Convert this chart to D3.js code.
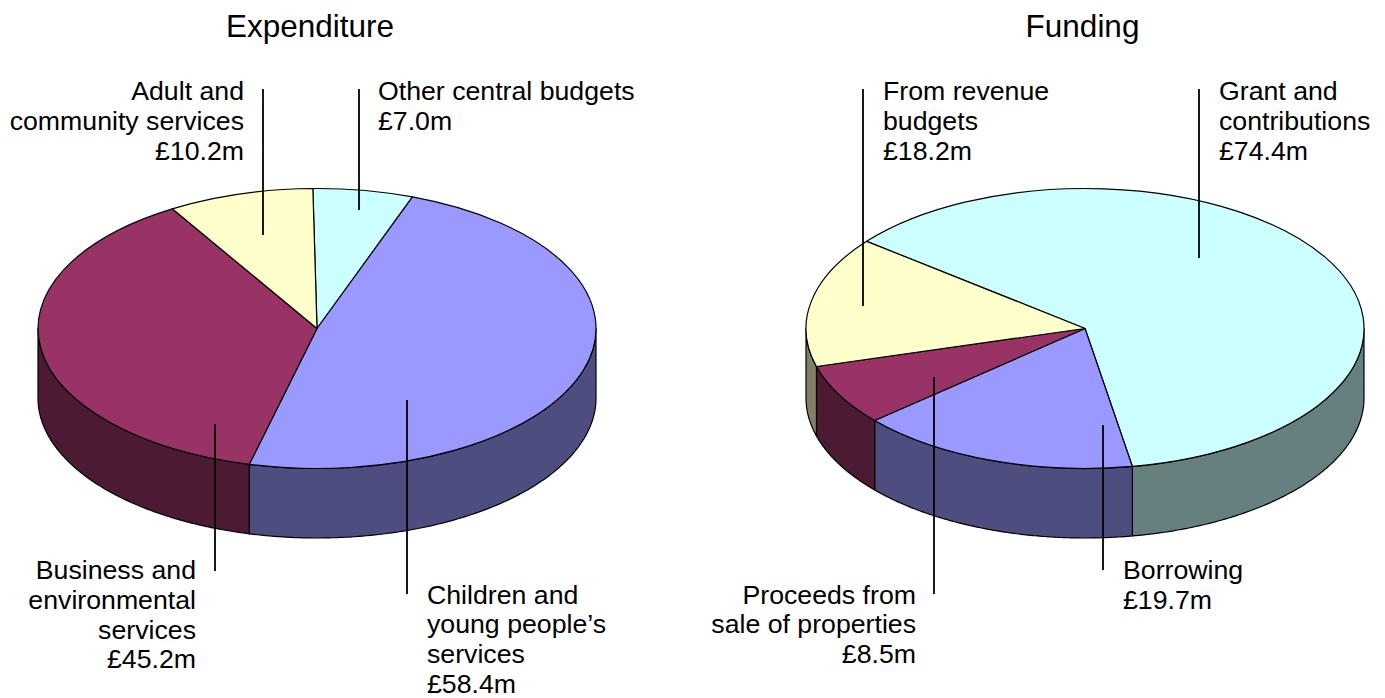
<!DOCTYPE html>
<html>
<head>
<meta charset="utf-8">
<script src="https://cdn.jsdelivr.net/npm/d3@7/dist/d3.min.js"></script>
<style>
  html, body { margin: 0; padding: 0; background: #fff; }
  svg { display: block; }
  text { font-family: "Liberation Sans", Arial, sans-serif; fill: #000; }
</style>
</head>
<body>
<svg id="chart" width="1385" height="698"></svg>
<script>
// Capital programme: where the money goes and where it comes from (£m)
const expenditureCategories = [
  ["Other central budgets"],
  ["Children and", "young people’s", "services"],
  ["Business and", "environmental", "services"],
  ["Adult and", "community services"]
];
const expenditureValues = [7.0, 58.4, 45.2, 10.2];
const expenditureColors = ["#CCFFFF", "#9999FF", "#993366", "#FFFFCC"];

const fundingCategories = [
  ["Grant and", "contributions"],
  ["Borrowing"],
  ["Proceeds from", "sale of properties"],
  ["From revenue", "budgets"]
];
const fundingValues = [74.4, 19.7, 8.5, 18.2];
const fundingColors = ["#CCFFFF", "#9999FF", "#993366", "#FFFFCC"];

// Disc geometry shared by both pies
const radiusX = 279, radiusY = 140, depth = 69.5;
const TAU = 2 * Math.PI;
const deg = d => d * Math.PI / 180;

// Where each callout sits: leader line x, y1, y2 and text anchor point
const expenditureCallouts = [
  { x: 359, y1: 89, y2: 210, tx: 378, ty: 100, anchor: "start" },
  { x: 407, y1: 400, y2: 594, tx: 427, ty: 603.5, anchor: "start" },
  { x: 215, y1: 424, y2: 571, tx: 196, ty: 579, anchor: "end" },
  { x: 263, y1: 89, y2: 235, tx: 244, ty: 100, anchor: "end" }
];
const fundingCallouts = [
  { x: 1199, y1: 89, y2: 258, tx: 1219, ty: 100, anchor: "start" },
  { x: 1103, y1: 425, y2: 570, tx: 1123, ty: 579, anchor: "start" },
  { x: 934, y1: 377, y2: 594, tx: 916, ty: 603.5, anchor: "end" },
  { x: 863, y1: 89, y2: 306, tx: 883, ty: 100, anchor: "start" }
];

const svg = d3.select("#chart");

function drawPie(cfg) {
  const g = svg.append("g").attr("transform", `translate(${cfg.cx},${cfg.cy})`);

  const pie = d3.pie().sort(null)
    .startAngle(deg(cfg.start))
    .endAngle(deg(cfg.start) + TAU);
  const slices = pie(cfg.values);

  const sx = a => radiusX * Math.sin(a);
  const sy = a => -radiusY * Math.cos(a);

  // Rim: only the part of each slice facing the viewer (between 90° and 270°)
  const rim = d3.area()
    .x(a => sx(a))
    .y0(a => sy(a))
    .y1(a => sy(a) + depth);

  slices.forEach((s, i) => {
    const a0 = Math.max(s.startAngle, deg(90));
    const a1 = Math.min(s.endAngle, deg(270));
    if (a1 <= a0) return;
    const n = 120;
    const angles = d3.range(n + 1).map(k => a0 + (a1 - a0) * k / n);
    g.append("path")
      .attr("d", rim(angles))
      .attr("fill", d3.interpolateRgb(cfg.colors[i], "#000")(0.5))
      .attr("stroke", "#000")
      .attr("stroke-width", 1.2)
      .attr("stroke-linejoin", "round");
  });

  // Top face: a circular arc squashed into the tilted ellipse
  const arc = d3.arc().innerRadius(0).outerRadius(radiusX);
  g.append("g")
    .attr("transform", `scale(1,${radiusY / radiusX})`)
    .selectAll("path")
    .data(slices)
    .join("path")
    .attr("d", arc)
    .attr("fill", (d, i) => cfg.colors[i])
    .attr("stroke", "#000")
    .attr("stroke-width", 1.2)
    .attr("stroke-linejoin", "round")
    .attr("vector-effect", "non-scaling-stroke");

  // Leader lines
  svg.append("g")
    .selectAll("line")
    .data(cfg.callouts)
    .join("line")
    .attr("x1", d => d.x).attr("x2", d => d.x)
    .attr("y1", d => d.y1).attr("y2", d => d.y2)
    .attr("stroke", "#000")
    .attr("stroke-width", 1.8);

  // Callout text: category lines followed by the value
  const fmt = v => `£${d3.format(".1f")(v)}m`;
  cfg.callouts.forEach((c, i) => {
    const lines = [...cfg.categories[i], fmt(cfg.values[i])];
    svg.append("text")
      .attr("text-anchor", c.anchor)
      .attr("font-size", 26.7)
      .selectAll("tspan")
      .data(lines)
      .join("tspan")
      .attr("x", c.tx)
      .attr("y", (d, k) => c.ty + k * 29.8)
      .text(d => d);
  });

  svg.append("text")
    .attr("x", cfg.titleX)
    .attr("y", 37)
    .attr("text-anchor", "middle")
    .attr("font-size", 31.5)
    .text(cfg.title);
}

drawPie({
  title: "Expenditure", titleX: 310, cx: 317, cy: 328.5, start: -0.85,
  values: expenditureValues, colors: expenditureColors,
  categories: expenditureCategories, callouts: expenditureCallouts
});
drawPie({
  title: "Funding", titleX: 1082.5, cx: 1085, cy: 328.5, start: -51.5,
  values: fundingValues, colors: fundingColors,
  categories: fundingCategories, callouts: fundingCallouts
});
</script>
</body>
</html>
